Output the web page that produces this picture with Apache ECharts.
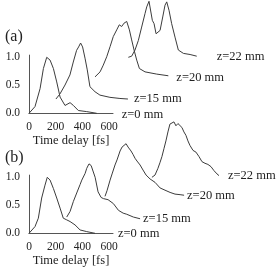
<!DOCTYPE html>
<html><head><meta charset="utf-8">
<script src="https://cdn.jsdelivr.net/npm/echarts@6/dist/echarts.min.js"></script>
<style>html,body{margin:0;padding:0;background:#fff}#c{width:277px;height:268px}</style>
</head><body><div id="c"></div>
<script>
// tick labels
const xTicks = [0, 200, 400, 600];
const yTicks = [0.0, 0.5, 1.0];
const curveNames = ['z=0 mm', 'z=15 mm', 'z=20 mm', 'z=22 mm'];

// panel (a): [time delay fs, normalized intensity]
const a_z0 = [[0,0],[45,0.12],[83,0.44],[108,0.80],[133,1.0],[158,0.95],[183,0.80],[208,0.56],[233,0.29],[270,0.14],[308,0.19],[333,0.14],[370,0.05],[433,0.03],[508,0]];
const a_z15 = [[0,0],[30,0.09],[68,0.25],[105,0.43],[130,0.66],[155,0.87],[170,0.93],[180,0.96],[185,1.0],[200,0.93],[218,0.73],[235,0.52],[255,0.22],[293,0.13],[330,0.07],[405,0.03],[480,0.01],[540,0]];
const a_z20 = [[0,0.01],[38,0.10],[62,0.22],[88,0.37],[113,0.55],[137,0.73],[163,0.85],[182,0.94],[200,0.91],[218,0.97],[238,1.0],[258,0.85],[275,0.67],[293,0.49],[313,0.31],[333,0.16],[375,0.10],[463,0.06],[550,0.03]];
const a_z22 = [[0,0],[25,0.02],[50,0.13],[75,0.30],[100,0.54],[125,0.78],[138,0.90],[155,1.0],[170,0.99],[180,0.66],[193,0.60],[208,0.42],[220,0.39],[238,0.48],[258,0.72],[275,0.93],[288,0.99],[305,0.84],[325,0.60],[350,0.36],[375,0.13],[413,0.07],[463,0.05],[513,0.02]];
// waterfall offsets [delay shift fs, intensity shift]
const a_offsets = [[0,0],[202,0.255],[495,0.64],[745,1.0]];

// panel (b)
const b_z0 = [[0,0],[45,0.12],[70,0.27],[95,0.63],[120,0.86],[137,1.0],[158,0.95],[183,0.80],[208,0.63],[233,0.45],[257,0.27],[283,0.24],[308,0.21],[345,0.15],[383,0.06],[433,0.03],[495,0]];
const b_z15 = [[0,0.05],[25,0.15],[50,0.33],[75,0.48],[100,0.63],[113,0.71],[125,0.68],[138,0.83],[150,0.92],[167,1.0],[183,0.97],[213,0.76],[235,0.50],[258,0.40],[275,0.38],[310,0.36],[350,0.29],[388,0.17],[423,0.12],[450,0.10],[500,0.05],[550,0.02]];
const b_z20 = [[0,0.05],[15,0.15],[38,0.34],[53,0.45],[75,0.61],[90,0.70],[98,0.68],[113,0.86],[128,0.93],[143,0.96],[158,0.99],[165,1.0],[173,0.93],[180,0.96],[195,0.86],[210,0.80],[225,0.73],[240,0.68],[263,0.61],[285,0.52],[308,0.43],[338,0.36],[375,0.30],[413,0.20],[450,0.16],[488,0.12],[525,0.09],[563,0.08],[593,0.07]];
const b_z22 = [[0,0.01],[23,0.05],[45,0.17],[60,0.27],[75,0.38],[90,0.52],[105,0.66],[120,0.82],[135,0.96],[150,0.98],[165,1.0],[180,0.93],[195,0.97],[210,1.0],[225,0.90],[240,0.82],[255,0.76],[270,0.66],[285,0.58],[308,0.49],[330,0.46],[353,0.38],[375,0.29],[398,0.26],[420,0.24],[443,0.20],[465,0.13],[488,0.07],[503,0.04]];
const b_offsets = [[0,0],[283,0.24],[570,0.61],[922,0.99]];

const FONT = 'Liberation Serif';
const TXT = '#222';
const LINE = '#3c3c3c';

const aLabelStyle = [
  {distance:25, offset:[0,1]}, {distance:6, offset:[0,0]}, {distance:8, offset:[0,2]}, {distance:20, offset:[0,1]}
];
const bLabelStyle = [
  {distance:23, offset:[0,0]}, {distance:3, offset:[0,0]}, {distance:3, offset:[0,0]}, {distance:9, offset:[0,0]}
];

function makeSeries(curves, offsets, xIdx, yIdx, lblStyle) {
  return curves.map((c, i) => ({
    type: 'line',
    xAxisIndex: xIdx, yAxisIndex: yIdx,
    data: c.map(p => [p[0] + offsets[i][0], p[1] + offsets[i][1]]),
    showSymbol: false, symbol: 'none', clip: false,
    lineStyle: {color: LINE, width: 1},
    endLabel: {show: true, formatter: curveNames[i], distance: lblStyle[i].distance, offset: lblStyle[i].offset,
      fontFamily: FONT, fontSize: 12.5, color: TXT},
    z: 3
  }));
}

function visX(grid) {
  return {gridIndex: grid, type: 'value', min: 0, max: 630, interval: 200,
    axisLine: {show: true, lineStyle: {color: '#555', width: 1}}, axisTick: {show: false}, splitLine: {show: false},
    axisLabel: {showMaxLabel: false, margin: 8, fontFamily: FONT, fontSize: 11.5, color: TXT,
      formatter: v => xTicks.includes(v) ? String(v) : ''},
    name: 'Time delay [fs]', nameLocation: 'middle', nameGap: 21,
    nameTextStyle: {fontFamily: FONT, fontSize: 12.5, color: TXT}};
}
function visY(grid) {
  return {gridIndex: grid, type: 'value', min: 0, max: 1.04, interval: 0.5,
    axisLine: {show: true, lineStyle: {color: '#555', width: 1}}, axisTick: {show: false}, splitLine: {show: false},
    axisLabel: {showMaxLabel: false, margin: 9, fontFamily: FONT, fontSize: 11.5, color: TXT,
      formatter: v => yTicks.includes(v) ? v.toFixed(1) : ''}};
}
function hidX(grid) { return {gridIndex: grid, type: 'value', min: 0, max: 1800, show: false}; }
function hidY(grid) { return {gridIndex: grid, type: 'value', min: 0, max: 2, show: false}; }

const option = {
  animation: false,
  backgroundColor: '#fff',
  title: [
    {text: '(a)', left: 0, top: 24, textStyle: {fontFamily: FONT, fontSize: 16, fontWeight: 'normal', color: TXT}},
    {text: '(b)', left: 0, top: 145, textStyle: {fontFamily: FONT, fontSize: 16, fontWeight: 'normal', color: TXT}}
  ],
  grid: [
    {left: 29, top: 55.1, width: 84, height: 58.2},
    {left: 29, top: 1.3, width: 240, height: 112},
    {left: 29, top: 175.1, width: 84, height: 58.2},
    {left: 29, top: 121.3, width: 240, height: 112}
  ],
  xAxis: [visX(0), hidX(1), visX(2), hidX(3)],
  yAxis: [visY(0), hidY(1), visY(2), hidY(3)],
  series: [].concat(
    makeSeries([a_z0, a_z15, a_z20, a_z22], a_offsets, 1, 1, aLabelStyle),
    makeSeries([b_z0, b_z15, b_z20, b_z22], b_offsets, 3, 3, bLabelStyle)
  )
};
const chart = echarts.init(document.getElementById('c'), null, {renderer: 'canvas'});
chart.setOption(option);
</script></body></html>
